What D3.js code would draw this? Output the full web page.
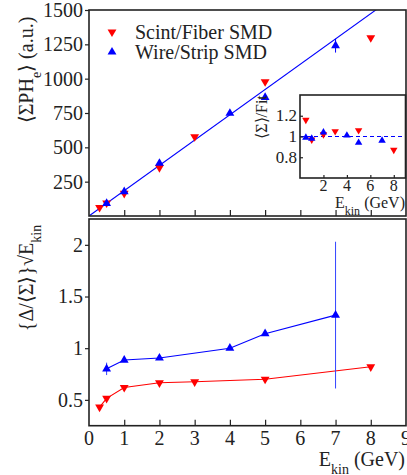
<!DOCTYPE html>
<html>
<head>
  <style>
    body { margin: 0; background: white; }
  </style>
</head>
<body>
  <div id="chart"></div>
  <script src="https://d3js.org/d3.v7.min.js"></script>
  <script>
  // data
  const scintE = [0.3, 0.5, 1, 2, 3, 5, 8];
  const scintPH = [62, 95, 165, 352, 577, 978, 1298];
  const wireE = [0.5, 1, 2, 4, 5, 7];
  const wirePH = [92, 177, 384, 748, 864, 1240];
  const wirePHErr = [0, 0, 0, 0, 0, 50];
  const fitE = [0, 9];
  const fitPH = [0, 1658];

  const scintRatioE = [0.5, 1, 2, 3, 5, 8];
  const scintRatio = [1.16, 0.97, 1.02, 1.05, 1.06, 0.87];
  const wireRatioE = [0.5, 1, 2, 4, 5, 7];
  const wireRatio = [0.99, 0.98, 1.04, 1.01, 0.94, 0.96];

  const scintRes = [0.43, 0.515, 0.62, 0.665, 0.675, 0.70, 0.82];
  const wireRes = [0.80, 0.885, 0.905, 1.0, 1.14, 1.32];
  const wireResErr = [0.06, 0, 0, 0, 0, 0.71];

  const topTicks = [250, 500, 750, 1000, 1250, 1500];
  const botTicks = [0.5, 1, 1.5, 2];
  const xTicks = [0, 1, 2, 3, 4, 5, 6, 7, 8, 9];
  const insetXTicks = [2, 4, 6, 8];
  const insetYTicks = [0.8, 1, 1.2];

  const W = 407, H = 475;
  const RED = "#ff0000", BLUE = "#0000ff";
  const FONT = "Liberation Serif";

  const svg = d3.select("#chart").append("svg")
      .attr("width", W).attr("height", H);

  const x = d3.scaleLinear().domain([0, 9]).range([89, 406]);
  const yTop = d3.scaleLinear().domain([0, 1500]).range([216, 10]);
  const yBot = d3.scaleLinear().domain([0.25, 2.25]).range([425.7, 219]);
  const xIn = d3.scaleLinear().domain([0, 9]).range([300, 405.5]);
  const yIn = d3.scaleLinear().domain([0.6, 1.4]).range([178, 95]);

  const tri = d3.symbol().type(d3.symbolTriangle).size(34)();
  const triSmall = d3.symbol().type(d3.symbolTriangle).size(24)();

  // every text goes through this so the serif face is set on the element itself
  function label(g, px, py, size, anchor) {
    return g.append("text").attr("x", px).attr("y", py)
      .attr("text-anchor", anchor || "start").attr("fill", "#222")
      .style("font-family", FONT).style("font-size", size + "px");
  }

  function markers(g, xs, ys, sx, sy, color, down, path) {
    g.selectAll(null).data(xs).enter().append("path")
      .attr("d", path)
      .attr("fill", color)
      .attr("transform", (d, i) => "translate(" + sx(d) + "," + sy(ys[i]) + ")" + (down ? " rotate(180)" : ""));
  }

  function errBars(g, xs, ys, errs, sx, sy, color) {
    g.selectAll(null).data(xs.filter((d, i) => errs[i] > 0)).enter().append("line")
      .attr("x1", d => sx(d)).attr("x2", d => sx(d))
      .attr("y1", d => { const i = xs.indexOf(d); return sy(ys[i] - errs[i]); })
      .attr("y2", d => { const i = xs.indexOf(d); return sy(ys[i] + errs[i]); })
      .attr("stroke", color).attr("stroke-width", 1);
  }

  function frame(g, x0, y0, x1, y1) {
    g.append("rect")
      .attr("x", x0).attr("y", y0).attr("width", x1 - x0).attr("height", y1 - y0)
      .attr("fill", "none").attr("stroke", "#222").attr("stroke-width", 1.6);
  }

  function styleAxis(g) {
    g.attr("font-family", null).attr("font-size", null);
    g.select(".domain").remove();
    g.selectAll("line").attr("stroke", "#222").attr("stroke-width", 1.2);
    g.selectAll("text").attr("fill", "#222")
      .style("font-family", FONT).style("font-size", "20px");
  }

  // ---------- top panel ----------
  const gTop = svg.append("g");
  svg.append("clipPath").attr("id", "clipTop").append("rect")
    .attr("x", 89).attr("y", 10).attr("width", 317).attr("height", 206);

  gTop.append("g")
    .attr("transform", "translate(89,0)")
    .call(d3.axisLeft(yTop).tickValues(topTicks).tickSize(4).tickPadding(2).tickFormat(d3.format("d")))
    .call(styleAxis);
  gTop.append("g")
    .attr("transform", "translate(0,216)")
    .call(d3.axisTop(x).tickValues(xTicks.slice(1, 9)).tickSize(6).tickFormat(""))
    .call(styleAxis);

  gTop.append("path")
    .datum(fitE.map((d, i) => [d, fitPH[i]]))
    .attr("clip-path", "url(#clipTop)")
    .attr("d", d3.line().x(d => x(d[0])).y(d => yTop(d[1])))
    .attr("fill", "none").attr("stroke", BLUE).attr("stroke-width", 1.1);

  errBars(gTop, wireE, wirePH, wirePHErr, x, yTop, BLUE);
  markers(gTop, scintE, scintPH, x, yTop, RED, true, tri);
  markers(gTop, wireE, wirePH, x, yTop, BLUE, false, tri);
  frame(gTop, 89, 10, 406, 216);

  // legend
  const legLabels = ["Scint/Fiber SMD", "Wire/Strip SMD"];
  const legColors = [RED, BLUE];
  legLabels.forEach((t, i) => {
    gTop.append("path").attr("d", tri).attr("fill", legColors[i])
      .attr("transform", "translate(112," + (32 + i * 20) + ")" + (i === 0 ? " rotate(180)" : ""));
    label(gTop, 135, 39 + i * 20, 20).text(t);
  });

  // y label
  const yl = label(gTop, 0, 0, 20, "middle").attr("transform", "translate(33,70) rotate(-90)");
  yl.append("tspan").text("⟨ΣPH");
  yl.append("tspan").attr("baseline-shift", "sub").style("font-size", "14px").text("e");
  yl.append("tspan").text("⟩ (a.u.)");

  // ---------- inset ----------
  const inset = svg.append("g");
  inset.append("rect").attr("x", 300).attr("y", 95).attr("width", 105.5).attr("height", 83)
    .attr("fill", "white");
  inset.append("line")
    .attr("x1", xIn(0)).attr("x2", xIn(9)).attr("y1", yIn(1)).attr("y2", yIn(1))
    .attr("stroke", BLUE).attr("stroke-width", 1.2).attr("stroke-dasharray", "4,3");
  inset.append("g").attr("transform", "translate(300,0)")
    .call(d3.axisRight(yIn).tickValues(insetYTicks).tickSize(3).tickFormat(""))
    .call(styleAxis);
  insetYTicks.forEach(d => label(inset, 297, yIn(d) + 5.5, 17, "end").text(d3.format("")(d)));
  inset.append("g").attr("transform", "translate(0,178)")
    .call(d3.axisTop(xIn).tickValues(insetXTicks).tickSize(3).tickFormat(""))
    .call(styleAxis);
  insetXTicks.forEach(d => label(inset, xIn(d), 191, 16, "middle").text(d));
  markers(inset, scintRatioE, scintRatio, xIn, yIn, RED, true, triSmall);
  markers(inset, wireRatioE, wireRatio, xIn, yIn, BLUE, false, triSmall);
  frame(inset, 300, 95, 405.5, 178);

  const il = label(inset, 405, 208, 16, "end");
  il.append("tspan").text("E");
  il.append("tspan").attr("baseline-shift", "sub").style("font-size", "12px").text("kin");
  il.append("tspan").text(" (GeV)");

  label(inset, 0, 0, 16, "middle").attr("transform", "translate(267,117) rotate(-90)")
    .text("⟨Σ⟩/Fit");

  // ---------- bottom panel ----------
  const gBot = svg.append("g");
  gBot.append("g")
    .attr("transform", "translate(89,0)")
    .call(d3.axisLeft(yBot).tickValues(botTicks).tickSize(4).tickPadding(2).tickFormat(d3.format("")))
    .call(styleAxis);
  gBot.append("g")
    .attr("transform", "translate(0,425.7)")
    .call(d3.axisTop(x).tickValues(xTicks.slice(1, 9)).tickSize(6).tickFormat(""))
    .call(styleAxis);
  xTicks.forEach(d => label(gBot, x(d), 445, 20, "middle").text(d));

  const lineGen = d3.line().x(d => x(d[0])).y(d => yBot(d[1]));
  gBot.append("path").datum(scintE.map((d, i) => [d, scintRes[i]]))
    .attr("d", lineGen).attr("fill", "none").attr("stroke", RED).attr("stroke-width", 1.1);
  gBot.append("path").datum(wireE.map((d, i) => [d, wireRes[i]]))
    .attr("d", lineGen).attr("fill", "none").attr("stroke", BLUE).attr("stroke-width", 1.1);
  errBars(gBot, wireE, wireRes, wireResErr, x, yBot, "#3344ff");
  markers(gBot, scintE, scintRes, x, yBot, RED, true, tri);
  markers(gBot, wireE, wireRes, x, yBot, BLUE, false, tri);
  frame(gBot, 89, 219, 406, 425.7);

  const xl = label(gBot, 405, 466, 20, "end");
  xl.append("tspan").text("E");
  xl.append("tspan").attr("baseline-shift", "sub").style("font-size", "14px").text("kin");
  xl.append("tspan").text("  (GeV)");

  const byl = label(gBot, 0, 0, 20, "middle").attr("transform", "translate(33,278) rotate(-90)");
  byl.append("tspan").text("{Δ/⟨Σ⟩}√E");
  byl.append("tspan").attr("baseline-shift", "sub").style("font-size", "14px").text("kin");
  </script>
</body>
</html>
